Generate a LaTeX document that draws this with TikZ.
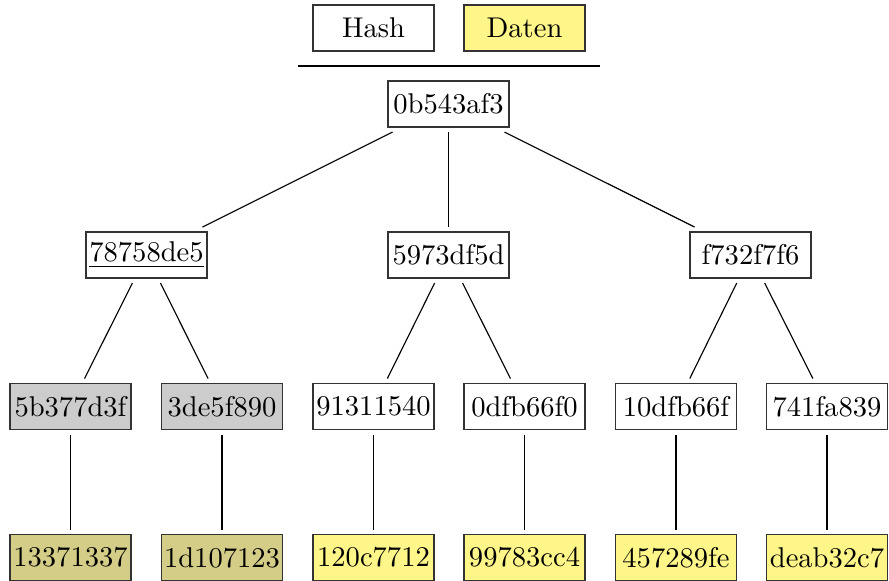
\documentclass[tikz,border=0pt]{standalone}
\definecolor{datafill}{RGB}{255,246,138}
\definecolor{hashgray}{RGB}{204,204,204}
\definecolor{olivefill}{RGB}{212,205,135}
\begin{document}
\begin{tikzpicture}[x=0.35pt,y=-0.35pt,
  box/.style={draw=black!80, minimum width=42.35pt, minimum height=16.1pt, inner sep=0pt, outer sep=1.75pt},
  hashbox/.style={box, fill=white},
  databox/.style={box, fill=datafill},
  graybox/.style={box, fill=hashgray},
  olivebox/.style={box, fill=olivefill},
  edge/.style={draw=black, line width=0.4pt}]
\useasboundingbox (0,0) rectangle (889,580);
% legend
\node[hashbox] (leghash) at (373.5,28) {Hash};
\node[databox] (legdata) at (524.5,28) {Daten};
\coordinate (sepL) at (298,66);
\coordinate (sepR) at (600,66);
\draw[edge] (sepL) -- (sepR);
% root
\node[hashbox] (root) at (448.5,104) {0b543af3};
% level 1
\node[hashbox] (a) at (146.5,255) {\underline{78758de5}};
\node[hashbox] (b) at (448.5,255) {5973df5d};
\node[hashbox] (c) at (750.5,255) {f732f7f6};
% level 2
\node[graybox] (a1) at (70.5,406.5) {5b377d3f};
\node[graybox] (a2) at (222,406.5) {3de5f890};
\node[hashbox] (b1) at (373.5,406.5) {91311540};
\node[hashbox] (b2) at (524.5,406.5) {0dfb66f0};
\node[hashbox] (c1) at (676,406.5) {10dfb66f};
\node[hashbox] (c2) at (827,406.5) {741fa839};
% level 3
\node[olivebox] (a1d) at (70.5,557.5) {13371337};
\node[olivebox] (a2d) at (222,557.5) {1d107123};
\node[databox] (b1d) at (373.5,557.5) {120c7712};
\node[databox] (b2d) at (524.5,557.5) {99783cc4};
\node[databox] (c1d) at (676,557.5) {457289fe};
\node[databox] (c2d) at (827,557.5) {deab32c7};
% edges
\draw[edge] (root) -- (a);
\draw[edge] (root) -- (b);
\draw[edge] (root) -- (c);
\draw[edge] (a) -- (a1);
\draw[edge] (a) -- (a2);
\draw[edge] (b) -- (b1);
\draw[edge] (b) -- (b2);
\draw[edge] (c) -- (c1);
\draw[edge] (c) -- (c2);
\draw[edge] (a1) -- (a1d);
\draw[edge] (a2) -- (a2d);
\draw[edge] (b1) -- (b1d);
\draw[edge] (b2) -- (b2d);
\draw[edge] (c1) -- (c1d);
\draw[edge] (c2) -- (c2d);
\end{tikzpicture}
\end{document}
